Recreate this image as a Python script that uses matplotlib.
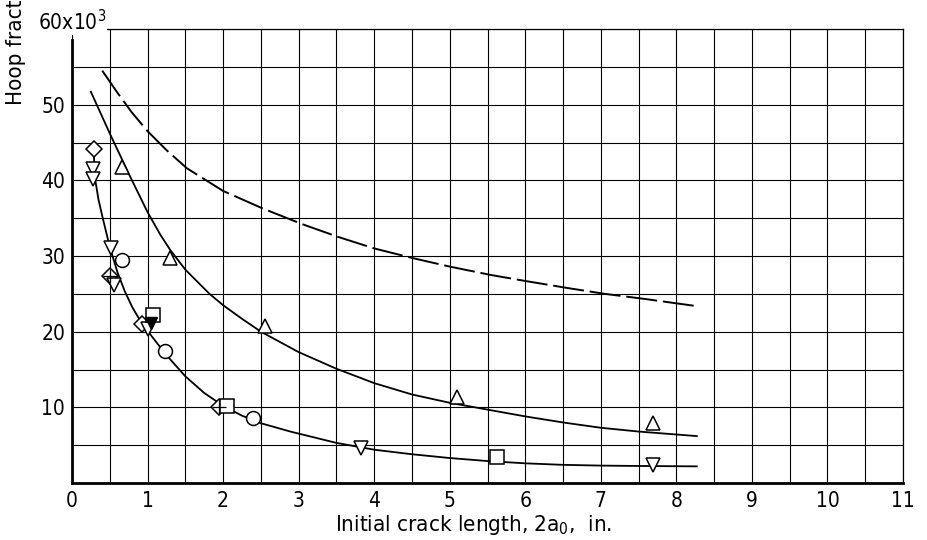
import matplotlib
matplotlib.use("Agg")
import matplotlib.pyplot as plt
from matplotlib.ticker import MultipleLocator

plt.rcParams['font.family'] = ['DejaVu Sans']
plt.rcParams['font.stretch'] = 'condensed'
plt.rcParams['mathtext.default'] = 'regular'

# %% Data (stress in ksi, crack length in inches)
# fitted curves
dash_x = [0.40, 0.60, 0.79, 1.00, 1.25, 1.52, 2.00, 2.52, 3.05, 3.53, 4.00,
          4.52, 5.00, 5.54, 6.00, 6.54, 7.05, 7.60, 8.25]
dash_y = [54.5, 51.6, 49.0, 46.5, 44.0, 41.6, 38.6, 36.3, 34.2, 32.5, 31.0,
          29.7, 28.6, 27.5, 26.7, 25.8, 25.0, 24.3, 23.4]

mid_x = [0.25, 0.50, 0.75, 1.00, 1.17, 1.30, 1.50, 1.82, 2.00, 2.25, 2.50,
         3.00, 3.50, 4.00, 4.50, 5.00, 5.50, 6.00, 6.50, 7.00, 7.50, 8.27]
mid_y = [51.7, 46.2, 40.9, 35.8, 32.8, 30.8, 28.2, 25.0, 23.5, 21.7, 20.0,
         17.3, 15.1, 13.2, 11.7, 10.6, 9.7, 8.8, 8.0, 7.3, 6.8, 6.2]

low_x = [0.29, 0.30, 0.35, 0.40, 0.50, 0.60, 0.70, 0.80, 0.90, 1.00, 1.25,
         1.50, 1.75, 2.00, 2.25, 2.50, 2.89, 3.50, 4.00, 4.50, 5.00, 5.50,
         6.00, 6.50, 7.00, 7.50, 8.27]
low_y = [43.5, 40.5, 37.5, 35.3, 31.2, 27.9, 25.3, 23.2, 21.5, 20.1, 16.9,
         14.1, 11.9, 10.2, 8.9, 7.9, 6.8, 5.3, 4.4, 3.8, 3.3, 2.9,
         2.6, 2.4, 2.3, 2.25, 2.2]

# test points by symbol
diamond_x = [0.29, 0.93]
diamond_y = [44.1, 21.0]
diamond_cross_x = [0.50, 1.94]
diamond_cross_y = [27.3, 10.1]
down_tri_x = [0.28, 0.28, 0.52, 0.55, 1.00, 3.83, 7.69]
down_tri_y = [41.5, 40.2, 31.0, 26.2, 20.3, 4.6, 2.4]
down_tri_filled_x = [1.04]
down_tri_filled_y = [21.2]
up_tri_x = [0.66, 1.30, 2.56, 5.09, 7.69]
up_tri_y = [41.8, 29.8, 20.7, 11.4, 7.9]
circle_x = [0.66, 1.23, 2.39]
circle_y = [29.5, 17.4, 8.6]
square_x = [1.07, 2.05, 5.62]
square_y = [22.2, 10.2, 3.4]

x_ticks = list(range(0, 12))
y_ticks = [0, 10, 20, 30, 40, 50, 60]
y_tick_labels = ['', '10', '20', '30', '40', '50', '']

# %% Figure
fig = plt.figure(figsize=(9.27, 5.40), dpi=100)
ax = fig.add_axes([72 / 927, 1 - 483 / 540, 831 / 927, 454 / 540])

ax.set_xlim(0, 11)
ax.set_ylim(0, 60)
ax.xaxis.set_minor_locator(MultipleLocator(0.5))
ax.yaxis.set_minor_locator(MultipleLocator(5))
ax.set_xticks(x_ticks)
ax.set_yticks(y_ticks)
ax.set_yticklabels(y_tick_labels)
ax.grid(which='both', color='black', linewidth=0.8)
ax.set_axisbelow(True)
ax.tick_params(which='both', length=0, labelsize=15)
ax.tick_params(axis='x', pad=6)
ax.tick_params(axis='y', pad=5)

for side in ['top', 'right']:
    ax.spines[side].set_linewidth(0.9)
for side in ['left', 'bottom']:
    ax.spines[side].set_linewidth(2.0)
ax.spines['left'].set_bounds(0, 58.5)

# curves
line, = ax.plot(dash_x, dash_y, color='black', lw=1.4)
line.set_dashes((16, 3))
ax.plot(mid_x, mid_y, color='black', lw=1.3)
ax.plot(low_x, low_y, color='black', lw=1.3)

# symbols
mk = dict(linestyle='none', markerfacecolor='white', markeredgecolor='black',
          markeredgewidth=1.1, zorder=4, clip_on=False)
ax.plot(diamond_x, diamond_y, marker='D', markersize=7.8, **mk)
ax.plot(diamond_cross_x, diamond_cross_y, marker='D', markersize=7.8, **mk)
ax.plot(diamond_cross_x, diamond_cross_y, linestyle='none', marker='+',
        markersize=10, color='black', markeredgewidth=0.9, zorder=5)
ax.plot(down_tri_x, down_tri_y, marker='v', markersize=10.5, **mk)
ax.plot(down_tri_filled_x, down_tri_filled_y, linestyle='none', marker='v',
        markersize=8, color='black', zorder=5)
ax.plot(up_tri_x, up_tri_y, marker='^', markersize=10.5, **mk)
ax.plot(circle_x, circle_y, marker='o', markersize=10, **mk)
ax.plot(square_x, square_y, marker='s', markersize=9.5, **mk)

# top y label sits over the corner
ax.text(0.45, 61.0, '60x10$^3$', fontsize=15, ha='right', va='center',
        bbox=dict(facecolor='white', edgecolor='none', pad=1.0), zorder=6,
        clip_on=False)

ax.set_xlabel('Initial crack length, 2a$_0$,  in.', fontsize=16)
ax.xaxis.set_label_coords((474 - 72) / 831, -0.065)

fig.text(16 / 927, 1 - 105 / 540, 'Hoop fracture stress, psi', rotation=90,
         ha='center', va='bottom', fontsize=16)

fig.savefig('out.png', dpi=100, facecolor='white')
